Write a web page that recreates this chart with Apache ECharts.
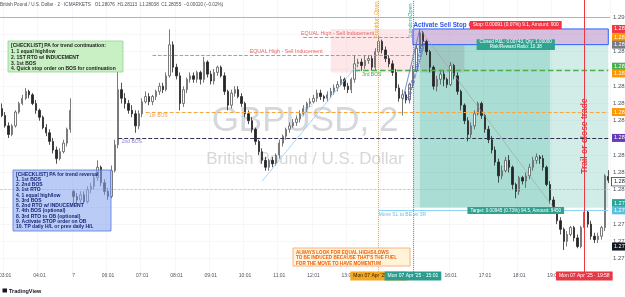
<!DOCTYPE html>
<html><head><meta charset="utf-8">
<script src="https://cdn.jsdelivr.net/npm/echarts@6/dist/echarts.min.js"></script>
<style>html,body{margin:0;padding:0;background:#fff;overflow:hidden}#c{width:625px;height:297px}</style>
</head><body><div id="c"></div>
<script>
// ---- candle data (6-minute candles) ----
const opens = [1.2847,1.2843,1.2837,1.2832,1.2837,1.2845,1.2850,1.2853,1.2857,1.2855,
 1.2850,1.2846,1.2842,1.2836,1.2833,1.2828,1.2823,1.2818,1.2822,1.2827,
 1.2835,1.2799,1.2796,1.2794,1.2797,1.2793,1.2800,1.2802,1.2807,1.2813,
 1.2804,1.2799,1.2796,1.2811,1.2826,1.2858,1.2853,1.2850,1.2846,1.2844,
 1.2837,1.2844,1.2851,1.2854,1.2851,1.2854,1.2857,1.2860,1.2858,1.2866,
 1.2884,1.2871,1.2866,1.2850,1.2858,1.2864,1.2866,1.2864,1.2868,1.2864,
 1.2874,1.2867,1.2863,1.2868,1.2871,1.2866,1.2857,1.2849,1.2856,1.2858,
 1.2854,1.2850,1.2844,1.2840,1.2835,1.2828,1.2822,1.2817,1.2813,1.2817,
 1.2815,1.2820,1.2827,1.2831,1.2835,1.2837,1.2839,1.2841,1.2844,1.2847,
 1.2850,1.2851,1.2853,1.2856,1.2854,1.2853,1.2855,1.2857,1.2859,1.2861,
 1.2864,1.2860,1.2858,1.2864,1.2873,1.2874,1.2872,1.2875,1.2876,1.2871,
 1.2880,1.2886,1.2881,1.2876,1.2873,1.2868,1.2859,1.2853,1.2855,1.2852,
 1.2861,1.2869,1.2882,1.2891,1.2886,1.2880,1.2871,1.2860,1.2864,1.2867,
 1.2864,1.2861,1.2872,1.2866,1.2857,1.2849,1.2840,1.2832,1.2837,1.2844,
 1.2850,1.2843,1.2835,1.2829,1.2823,1.2816,1.2808,1.2811,1.2817,1.2813,
 1.2803,1.2799,1.2807,1.2805,1.2808,1.2813,1.2817,1.2819,1.2818,1.2813,
 1.2803,1.2794,1.2788,1.2782,1.2777,1.2770,1.2774,1.2778,1.2772,1.2767,
 1.2778,1.2787,1.2780,1.2773,1.2771,1.2773,1.2778,1.28076];
const closes = [1.2843,1.2837,1.2832,1.2837,1.2845,1.2850,1.2853,1.2857,1.2855,1.2850,
 1.2846,1.2842,1.2836,1.2833,1.2828,1.2823,1.2818,1.2822,1.2827,1.2835,
 1.2846,1.2796,1.2794,1.2797,1.2793,1.2800,1.2802,1.2807,1.2813,1.2804,
 1.2799,1.2796,1.2811,1.2826,1.2858,1.2853,1.2850,1.2846,1.2844,1.2837,
 1.2844,1.2851,1.2854,1.2851,1.2854,1.2857,1.2860,1.2858,1.2866,1.2884,
 1.2871,1.2866,1.2850,1.2858,1.2864,1.2866,1.2864,1.2868,1.2864,1.2874,
 1.2867,1.2863,1.2868,1.2871,1.2866,1.2857,1.2849,1.2856,1.2858,1.2854,
 1.2850,1.2844,1.2840,1.2835,1.2828,1.2822,1.2817,1.2813,1.2817,1.2815,
 1.2820,1.2827,1.2831,1.2835,1.2837,1.2839,1.2841,1.2844,1.2847,1.2850,
 1.2851,1.2853,1.2856,1.2854,1.2853,1.2855,1.2857,1.2859,1.2861,1.2864,
 1.2860,1.2858,1.2864,1.2873,1.2874,1.2872,1.2875,1.2876,1.2871,1.2880,
 1.2886,1.2881,1.2876,1.2873,1.2868,1.2859,1.2853,1.2855,1.2852,1.2861,
 1.2869,1.2882,1.2891,1.2886,1.2880,1.2871,1.2860,1.2864,1.2867,1.2864,
 1.2861,1.2872,1.2866,1.2857,1.2849,1.2840,1.2832,1.2837,1.2844,1.2850,
 1.2843,1.2835,1.2829,1.2823,1.2816,1.2808,1.2811,1.2817,1.2813,1.2803,
 1.2799,1.2807,1.2805,1.2808,1.2813,1.2817,1.2819,1.2818,1.2813,1.2803,
 1.2794,1.2788,1.2782,1.2777,1.2770,1.2774,1.2778,1.2772,1.2767,1.2778,
 1.2787,1.2780,1.2773,1.2771,1.2773,1.2778,1.2808,1.28055];
const lows = [1.2842,1.2836,1.2830,1.2831,1.2836,1.2844,1.2849,1.2852,1.2853,1.2849,
 1.2844,1.2840,1.2835,1.2831,1.2826,1.2821,1.2815,1.2817,1.2821,1.2825,
 1.2833,1.2792,1.2791,1.2792,1.2792,1.2792,1.2798,1.2800,1.2805,1.2802,
 1.2797,1.2794,1.2795,1.2810,1.2824,1.2850,1.2847,1.2844,1.2842,1.2833,
 1.2835,1.2842,1.2850,1.2849,1.2849,1.2852,1.2855,1.2856,1.2857,1.2865,
 1.2868,1.2864,1.2846,1.2848,1.2856,1.2862,1.2862,1.2862,1.2861,1.2862,
 1.2865,1.2861,1.2861,1.2866,1.2865,1.2855,1.2846,1.2847,1.2854,1.2853,
 1.2848,1.2842,1.2838,1.2833,1.2826,1.2820,1.2815,1.2811,1.2811,1.2813,
 1.2814,1.2818,1.2825,1.2829,1.2833,1.2836,1.2837,1.2839,1.2843,1.2845,
 1.2848,1.2850,1.2851,1.2852,1.2851,1.2851,1.2853,1.2855,1.2857,1.2860,
 1.2858,1.2856,1.2856,1.2862,1.2871,1.2869,1.2870,1.2873,1.2869,1.2869,
 1.2878,1.2879,1.2874,1.2871,1.2866,1.2857,1.2851,1.2843,1.2850,1.2850,
 1.2859,1.2868,1.2880,1.2883,1.2878,1.2868,1.2858,1.2857,1.2861,1.2860,
 1.2859,1.2860,1.2864,1.2855,1.2846,1.2838,1.2828,1.2830,1.2835,1.2843,
 1.2841,1.2833,1.2827,1.2821,1.2814,1.2804,1.2806,1.2810,1.2810,1.2800,
 1.2795,1.2797,1.2803,1.2801,1.2806,1.2811,1.2815,1.2815,1.2811,1.2802,
 1.2792,1.2786,1.2780,1.2774,1.2765,1.2767,1.2773,1.2770,1.2766,1.2766,
 1.2776,1.2778,1.2771,1.2769,1.2769,1.2771,1.2776,1.28038];
const highs = [1.2850,1.2845,1.2839,1.2838,1.2846,1.2851,1.2855,1.2859,1.2858,1.2856,
 1.2852,1.2847,1.2843,1.2838,1.2835,1.2830,1.2825,1.2824,1.2829,1.2836,
 1.2853,1.2800,1.2798,1.2799,1.2799,1.2802,1.2804,1.2808,1.2817,1.2814,
 1.2806,1.2801,1.2814,1.2829,1.2872,1.2862,1.2856,1.2852,1.2849,1.2846,
 1.2846,1.2853,1.2857,1.2856,1.2855,1.2858,1.2862,1.2862,1.2868,1.2893,
 1.2886,1.2873,1.2868,1.2860,1.2865,1.2868,1.2868,1.2869,1.2869,1.2877,
 1.2875,1.2869,1.2870,1.2872,1.2872,1.2868,1.2858,1.2858,1.2860,1.2860,
 1.2856,1.2851,1.2846,1.2842,1.2836,1.2829,1.2824,1.2819,1.2818,1.2819,
 1.2821,1.2829,1.2832,1.2836,1.2839,1.2841,1.2843,1.2846,1.2849,1.2851,
 1.2853,1.2855,1.2858,1.2858,1.2855,1.2857,1.2859,1.2861,1.2863,1.2866,
 1.2865,1.2862,1.2865,1.2878,1.2876,1.2876,1.2878,1.2878,1.2878,1.2882,
 1.2889,1.2887,1.2883,1.2878,1.2875,1.2870,1.2861,1.2858,1.2857,1.2862,
 1.2872,1.2884,1.2893,1.2892,1.2887,1.2881,1.2872,1.2866,1.2869,1.2869,
 1.2865,1.2874,1.2873,1.2868,1.2858,1.2850,1.2842,1.2839,1.2846,1.2851,
 1.2851,1.2844,1.2837,1.2831,1.2825,1.2818,1.2814,1.2819,1.2820,1.2814,
 1.2804,1.2808,1.2808,1.2810,1.2815,1.2819,1.2821,1.2820,1.2820,1.2814,
 1.2805,1.2796,1.2790,1.2784,1.2778,1.2776,1.2779,1.2779,1.2774,1.2779,
 1.2789,1.2788,1.2782,1.2775,1.2775,1.2779,1.2809,1.28113];

// ---- time categories: 6-minute steps from 02:55 ----
const startMinute = 175, stepMinutes = 6;
const times = opens.map((_, i) => { const m = startMinute + stepMinutes * i; return String(Math.floor(m / 60)).padStart(2, '0') + ':' + String(m % 60).padStart(2, '0'); });
const dayBreak = '05:01', dayLabel = '7';

// ---- price axis ----
const yMin = 1.275, yMax = 1.291, yStep = 0.001;

// ---- levels & trade ----
const levels = { topOrange: 1.28885, midOrange: 1.2868, equalHigh: 1.2878, bos3: 1.2869, bos1: 1.2845, bos2: 1.2830, moveSL: 1.2788, crosshair: 1.2767 };
const trade = { startIdx: 120, innerStart: 122, innerEnd: 160, endIdx: 177, stop: 1.28932, entry: 1.28841, target: 1.27896 };
const sessions = { frankfurt: 110, london: 120, trail: 170 };

const F = '"Liberation Sans", Arial, sans-serif';
const isHour = v => v.endsWith(':01') && parseInt(v, 10) >= 3;
const seg = (i0, p0, i1, p1, color, type, width) => { const ls = { color, type, width }; return [{ coord: [times[i0], p0], lineStyle: ls }, { coord: [times[i1], p1], lineStyle: ls }]; };
const area = (i0, p0, i1, p1, fill, border) => [{ coord: [times[i0], p0], itemStyle: { color: fill, borderColor: border || 'rgba(0,0,0,0)', borderWidth: border ? 1 : 0 } }, { coord: [times[i1], p1] }];

const chart = echarts.init(document.getElementById('c'), null, { renderer: 'canvas' });
chart.setOption({
  animation: false,
  grid: { left: 0, right: 15, top: 0, bottom: 21.14, outerBoundsMode: 'none', containLabel: false },
  xAxis: {
    type: 'category', data: times, boundaryGap: true,
    axisLine: { show: false }, axisTick: { show: false },
    axisLabel: { interval: (i, v) => isHour(v), formatter: v => v === dayBreak ? dayLabel : v, fontSize: 5, color: '#50535e', margin: -3, fontFamily: F },
    splitLine: { show: true, interval: (i, v) => isHour(v), lineStyle: { color: '#f1f2f5', width: 0.6 } }
  },
  yAxis: {
    type: 'value', position: 'right', min: yMin, max: yMax, interval: yStep,
    axisLine: { show: false }, axisTick: { show: false },
    splitLine: { show: true, showMinLine: false, showMaxLine: false, lineStyle: { color: '#f1f2f5', width: 0.6 } },
    axisLabel: { showMinLabel: false, showMaxLabel: false, fontSize: 6, color: '#50535e', margin: 3, fontFamily: F, formatter: v => v.toFixed(5) }
  },
  series: [{
    type: 'candlestick', z: 3,
    data: opens.map((o, i) => [o, closes[i], lows[i], highs[i]]),
    barWidth: '55%',
    itemStyle: { color: '#ffffff', color0: '#262626', borderColor: '#595959', borderColor0: '#262626', borderWidth: 0.8 },
    markArea: {
      silent: true,
      data: [
        area(96, trade.stop, trade.startIdx, levels.midOrange, 'rgba(242,54,69,0.12)'),
        area(trade.startIdx, trade.target, trade.endIdx, trade.entry, 'rgba(8,153,129,0.18)'),
        area(trade.innerStart, trade.target, trade.innerEnd, trade.entry, 'rgba(8,153,129,0.2)'),
        area(trade.innerStart, levels.midOrange, 135, trade.entry, 'rgba(120,123,134,0.22)'),
        area(trade.startIdx, trade.entry, trade.endIdx, trade.stop, 'rgba(242,54,69,0.22)'),
        area(trade.startIdx, trade.entry, trade.endIdx, trade.stop, 'rgba(41,98,255,0.18)', '#2962ff')
      ]
    },
    markLine: {
      silent: true, symbol: ['none', 'none'], label: { show: false },
      data: [
        { yAxis: levels.topOrange, lineStyle: { color: '#f7b267', type: 'solid', width: 1 } },
        { yAxis: levels.midOrange, lineStyle: { color: '#f5a742', type: 'solid', width: 1 } },
        { yAxis: levels.crosshair, lineStyle: { color: '#b8bcc6', type: 'dashed', width: 0.7 } },
        seg(44, levels.equalHigh, 120, levels.equalHigh, '#e57373', 'dashed', 0.9),
        seg(88, levels.topOrange, 120, levels.topOrange, '#e57373', 'dashed', 0.9),
        seg(103, levels.bos3, trade.endIdx, levels.bos3, '#4caf50', 'dashed', 1.4),
        seg(42, levels.bos1, trade.endIdx, levels.bos1, '#f5a742', 'dashed', 1),
        seg(34, levels.bos2, trade.endIdx, levels.bos2, '#2f3350', 'dashed', 1),
        seg(110, levels.moveSL, trade.endIdx, levels.moveSL, '#8fd3f4', 'solid', 1),
        seg(122, trade.stop, 161, trade.target, '#a0a0a0', 'solid', 0.6),
        seg(76, 1.2805, 104, 1.2873, '#90caf9', 'solid', 0.8),
        seg(117, 1.2852, 122, 1.2893, '#5c6bc0', 'solid', 0.8),
        { xAxis: times[sessions.frankfurt], lineStyle: { color: '#f5a623', type: 'dotted', width: 1 } },
        { xAxis: times[sessions.london], lineStyle: { color: '#26a69a', type: 'dotted', width: 1 } },
        { xAxis: times[sessions.trail], lineStyle: { color: '#e53945', type: 'solid', width: 1 } }
      ]
    }
  }]
});

// ---- annotations positioned from data coordinates ----
const P = (i, p) => chart.convertToPixel({ gridIndex: 0 }, [i, p]);
const g = [];
function txt(x, y, text, o) {
  o = o || {};
  const st = { text, fill: o.fill || '#333', fontSize: o.fs || 5, fontWeight: o.fw || 'normal', fontFamily: F, align: o.align || 'left', verticalAlign: o.va || 'middle' };
  if (o.lh) st.lineHeight = o.lh;
  if (o.bg) { st.backgroundColor = o.bg; st.padding = o.pad || [1, 3]; }
  if (o.bc) { st.borderColor = o.bc; st.borderWidth = 0.7; }
  g.push({ type: 'text', x, y, z: o.z == null ? 50 : o.z, rotation: o.rot || 0, style: st });
}
function rect(x, y, w, h, fill, stroke, z) {
  g.push({ type: 'rect', z: z == null ? 45 : z, shape: { x, y, width: w, height: h }, style: { fill, stroke: stroke || null, lineWidth: stroke ? 0.8 : 0 } });
}

// header + watermark
txt(0, 5, 'British Pound / U.S. Dollar · 2 · ICMARKETS   O1.28076  H1.28113  L1.28038  C1.28055  −0.00020 (−0.02%)', { fs: 4.6, fill: '#4a4d57' });
txt(305, 121, 'GBPUSD, 2', { fs: 35, fill: '#d6d7db', align: 'center', z: 1 });
txt(305, 159, 'British Pound / U.S. Dollar', { fs: 17, fill: '#d6d7db', align: 'center', z: 1 });

// checklists
rect(8, 41, 115, 31, '#c9f0c5', '#93d48f');
txt(11, 43, '[CHECKLIST] PA for trend continuation:\n1. 1 equal high/low\n2. 1ST RTO w/ INDUCEMENT\n3. 1st BOS\n4. Quick stop order on BOS for continuation', { fs: 5, fw: 'bold', fill: '#1c1c1c', va: 'top', lh: 5.8 });
rect(13, 170, 98, 61, 'rgba(140,168,240,0.6)', '#5677e0');
txt(16, 171.5, '[CHECKLIST] PA for trend reversal\n1. 1st BOS\n2. 2nd BOS\n3. 1st RTO\n4. 1 equal high/low\n5. 3rd BOS\n6. 2nd RTO w/ INDUCEMENT\n7. 4th BOS (optional)\n8. 3rd RTO to OB (optional)\n9. Activate STOP order on OB\n10. TP daily H/L or prev daily H/L', { fs: 5, fw: 'bold', fill: '#16277a', va: 'top', lh: 5.25 });
rect(293, 248, 117, 18, '#fff3da', '#f2a35e');
txt(296, 249.6, "ALWAYS LOOK FOR EQUAL HIGHS/LOWS\nTO BE INDUCED BECAUSE THAT'S THE FUEL\nFOR THE MOVE TO HAVE MOMENTUM", { fs: 4.6, fw: 'bold', fill: '#f0600f', va: 'top', lh: 5.6 });

// level labels
let p = P(83, levels.equalHigh); txt(p[0], p[1] - 1.5, 'EQUAL High - Sell Inducement', { fs: 5.3, fill: '#e06666', align: 'center', va: 'bottom' });
p = P(98, levels.topOrange); txt(p[0], p[1] - 1.5, 'EQUAL High - Sell Inducement', { fs: 5.3, fill: '#e06666', align: 'center', va: 'bottom' });
p = P(43, levels.bos1); txt(p[0], p[1] + 1.5, '1st BOS', { fs: 5, fill: '#f0a050', va: 'top' });
p = P(35, levels.bos2); txt(p[0], p[1] + 1.5, '2nd BOS', { fs: 5, fill: '#8d7bd0', va: 'top' });
p = P(108, levels.bos3); txt(p[0], p[1] + 1.5, '3rd BOS', { fs: 5, fill: '#3fae49', align: 'center', va: 'top' });
p = P(110, levels.moveSL); txt(p[0], p[1] + 1.5, 'Move SL to BE w/ 3R', { fs: 5, fill: '#6cc0e8', va: 'top' });
p = P(88.5, 1.2846); txt(p[0], p[1], '1st RTO', { fs: 4.5, fill: '#7bb8f0', align: 'center', rot: 0.89 });
p = P(120.9, 1.28694); txt(p[0], p[1], '2nd RTO w/ INDUCEMENT', { fs: 5, fw: 'bold', fill: '#5565c8', align: 'center', rot: 1.3 });

// session / trail lines text
p = P(sessions.frankfurt, 1.2899); txt(p[0] - 2.5, 20, 'Frankfurt Open', { fs: 5.5, fill: '#f5a623', align: 'center', rot: Math.PI / 2 });
p = P(sessions.london, 1.2899); txt(p[0] - 2.5, 20, 'London Open', { fs: 5.5, fill: '#26a69a', align: 'center', rot: Math.PI / 2 });
p = P(sessions.trail, 1.28311); txt(p[0], p[1], 'Trail or close trade', { fs: 8.5, fw: 'bold', fill: '#e53945', align: 'center', rot: Math.PI / 2 });

// trade labels
p = P(trade.startIdx, trade.stop); txt(p[0] + 0.5, p[1] - 4, 'Activate Sell Stop Order', { fs: 6.3, fw: 'bold', fill: '#3056e8' });
p = P(149.5, trade.stop); txt(p[0], p[1] - 4, 'Stop: 0.00091 (0.07%) 9.1, Amount: 900', { fs: 4.8, fill: '#fff', bg: '#f23645', align: 'center', pad: [1.5, 3] });
p = P(149.5, trade.entry); txt(p[0], p[1], 'Closed P&L: 0.00743, Qty: 1.00000\nRisk/Reward Ratio: 10.38', { fs: 4.6, lh: 4.9, fill: '#fff', bg: '#2fa38f', align: 'center', pad: [0.5, 3] });
p = P(149.5, trade.target); txt(p[0], p[1] + 3, 'Target: 0.00945 (0.73%) 94.5, Amount: 9450', { fs: 4.6, fill: '#fff', bg: '#2fa38f', align: 'center', pad: [1, 3] });

// time-axis tags
p = P(sessions.frankfurt, yMin); txt(p[0], 276, "Mon 07 Apr '25 · 14:01", { fs: 5, fill: '#2b2100', bg: '#f5a623', align: 'center', pad: [2, 3] });
p = P(sessions.london, yMin); txt(p[0], 276, "Mon 07 Apr '25 · 15:01", { fs: 5, fill: '#fff', bg: '#2a9d8f', align: 'center', pad: [2, 3] });
p = P(sessions.trail, yMin); txt(p[0], 276, "Mon 07 Apr '25 · 19:58", { fs: 5, fill: '#fff', bg: '#e53945', align: 'center', pad: [2, 3] });

// price-axis tags
const axisTags = [
  [trade.stop, '#f23645', '#fff', 0], [levels.topOrange, '#ff9800', '#fff', 0], [trade.entry, '#787b86', '#fff', 0],
  [levels.bos3, '#4caf50', '#fff', -4], [levels.midOrange, '#ff9800', '#fff', 1], [levels.bos1, '#ff9800', '#fff', 0],
  [levels.bos2, '#673ab7', '#fff', 0], [closes[closes.length - 1], '#ffffff', '#131722', 1.5],
  [trade.target, '#26a69a', '#fff', -4.5], [levels.moveSL, '#5bc0de', '#fff', 0], [levels.crosshair, '#131722', '#fff', 0]
];
axisTags.forEach(t => { const q = P(0, t[0]); txt(612, q[1] + t[3], t[0].toFixed(5), { fs: 5.5, fill: t[2], bg: t[1], pad: [1, 10, 1, 2], bc: t[1] === '#ffffff' ? '#131722' : null, z: 60 }); });

// footer
rect(2.5, 288.5, 4.5, 4, '#131722', null, 50);
txt(9, 291, 'TradingView', { fs: 5.5, fw: 'bold', fill: '#131722' });

chart.setOption({ graphic: g });
</script>
</body></html>
